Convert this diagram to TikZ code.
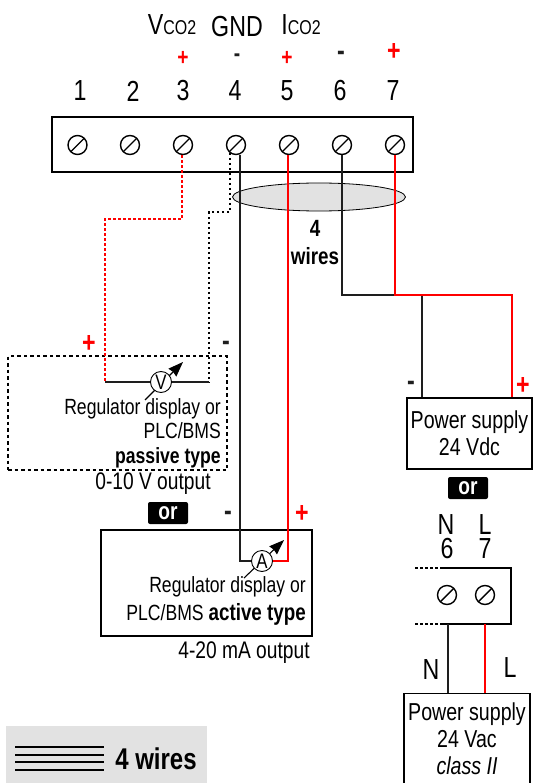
\documentclass[tikz,border=0pt]{standalone}
\usepackage{fontspec}
\setmainfont{Liberation Sans}[FakeStretch=0.8]
\usetikzlibrary{arrows.meta, positioning, shapes.geometric}
\definecolor{wireblack}{RGB}{30,30,30}
\definecolor{cablegray}{RGB}{226,226,226}
\tikzset{
  screw/.style={shape=circle,draw=black,line width=1.4pt,minimum size=19pt,inner sep=0pt,
    path picture={\draw[line width=1.4pt] (path picture bounding box.south west) -- (path picture bounding box.north east);}},
  meter/.style={shape=circle,draw=black,fill=white,line width=0.9pt,minimum size=21pt,inner sep=0pt,font=\fontsize{21}{22}\selectfont},
  needle/.style={line width=1.1pt,-{Stealth[length=15pt,width=11pt,inset=1pt]}},
  blackwire/.style={draw=wireblack,line width=1.6pt},
  redwire/.style={draw=red,line width=1.2pt},
  blackdots/.style={draw=black,line width=1.4pt,dash pattern=on 2.6pt off 2.4pt},
  reddots/.style={draw=red,line width=1.2pt,dash pattern=on 2.6pt off 2.4pt},
  unitbox/.style={shape=rectangle,draw=black,line width=1.3pt,inner sep=0pt},
  big/.style={font=\fontsize{29}{30}\selectfont,inner sep=0pt},
  mid/.style={font=\fontsize{24.5}{27}\selectfont,inner sep=0pt,align=center},
  small/.style={font=\fontsize{22}{24.5}\selectfont,inner sep=0pt},
  outputtxt/.style={font=\fontsize{24}{26}\selectfont,inner sep=0pt},
  boldtxt/.style={font=\fontsize{23.5}{28}\selectfont\bfseries,inner sep=0pt},
  sign/.style={font=\fontsize{29}{30}\selectfont\bfseries,inner sep=0pt},
  signsmall/.style={font=\fontsize{24}{26}\selectfont\bfseries,inner sep=0pt},
  orbox/.style={shape=rectangle,rounded corners=2pt,fill=black,text=white,minimum width=40pt,minimum height=22pt,inner sep=0pt,font=\fontsize{24}{26}\selectfont\bfseries},
}
\begin{document}
\begin{tikzpicture}[x=1pt,y=-1pt]
  \useasboundingbox (0,0) rectangle (533,783);
  \clip (0,0) rectangle (533,783);

  % main terminal block
  \node[unitbox,minimum width=361pt,minimum height=55pt] (block) at (232.5,144.5) {};
  \foreach \n/\x in {1/80,2/133,3/183,4/235,5/287,6/340,7/393}
    \node[big] (num\n) at (\x,91) {\n};
  \foreach \n/\x in {1/77.5,2/130,3/183,4/236,5/289,6/342,7/395}
    \node[screw] (s\n) at (\x,145) {};

  \node[big] (vco) at (172,25) {V\fontsize{20}{22}\selectfont CO2};
  \node[big] (gnd) at (237,27) {GND};
  \node[big] (ico) at (301,25) {I\fontsize{20}{22}\selectfont CO2};
  \node[signsmall,text=red] (p3) at (183,58) {+};
  \node[signsmall,text=wireblack] (m4) at (237,58) {-};
  \node[signsmall,text=red] (p5) at (287,58) {+};
  \node[sign,text=wireblack] (m6) at (341,56) {-};
  \node[sign,text=red] (p7) at (394,52) {+};

  % cable
  \node[shape=ellipse,draw=black,fill=cablegray,line width=0.8pt,minimum width=173pt,minimum height=28pt,inner sep=0pt] (cable) at (319,197) {};
  \node[boldtxt] (four) at (315,228) {4};
  \node[boldtxt] (wires) at (315,256) {wires};

  % passive unit
  \node[shape=rectangle,draw=black,line width=1.1pt,dash pattern=on 3.5pt off 3pt,minimum width=219pt,minimum height=114pt,inner sep=0pt] (passive) at (117.5,413) {};
  \coordinate (vfrom) at (145,400);
  \coordinate (vto) at (183,362);
  \draw[needle] (vfrom) -- (vto);
  \node[meter] (mv) at (161,382) {V};
  \coordinate (r1) at (182,219);
  \coordinate (r2) at (105,219);
  \coordinate (r3) at (105,382);
  \coordinate (b1) at (230,212);
  \coordinate (b2) at (209,212);
  \coordinate (b3) at (209,382);
  \draw[reddots] (r1 |- s3.south) -- (r1) -- (r2) -- (r3);
  \draw[blackdots] (b1 |- s4.-130) -- (b1) -- (b2) -- (b3);
  \draw[blackwire] (r3) -- (mv) -- (b3);
  \node[sign,text=red] (pv) at (89,344) {+};
  \node[sign,text=wireblack] (nv) at (226,346) {-};
  \node[small,anchor=east,align=right] (passivetxt) at (221,433) {Regulator display or\\PLC/BMS\\\textbf{passive type}};
  \node[outputtxt] (voutput) at (153,484) {0-10 V output};
  \node[orbox] (or1) at (168,513) {or};

  % active unit
  \node[unitbox,minimum width=211pt,minimum height=106pt] (active) at (206.5,583) {};
  \coordinate (afrom) at (244,578);
  \coordinate (ato) at (284,540);
  \draw[needle] (afrom) -- (ato);
  \node[meter] (ma) at (262,561) {A};
  \coordinate (a1) at (240,561);
  \coordinate (a2) at (288,561);
  \draw[blackwire] (a1 |- s4.-70) -- (a1) -- (ma);
  \draw[redwire] (ma) -- (a2) -- (a2 |- s5.south);
  \node[sign,text=wireblack] (na) at (228,516) {-};
  \node[sign,text=red] (pa) at (302,514) {+};
  \node[small,anchor=east,align=right] (activetxt) at (306,601) {Regulator display or\\[3pt]PLC/BMS {\fontsize{23.5}{24.5}\selectfont\textbf{active type}}};
  \node[outputtxt] (aoutput) at (244,653) {4-20 mA output};

  % 24 Vdc supply
  \node[unitbox,mid,minimum width=125pt,minimum height=71pt] (psdc) at (469.5,433.5) {Power supply\\24 Vdc};
  \coordinate (j6) at (342,295);
  \coordinate (j6b) at (422,295);
  \coordinate (j7) at (395,295);
  \coordinate (j7b) at (512,295);
  \draw[blackwire] (j6 |- s6.south) -- (j6) -- (j6b) -- (j6b |- psdc.north);
  \draw[redwire] (j7 |- s7.south) -- (j7) -- (j7b) -- (j7b |- psdc.north);
  \node[sign,text=wireblack] (nd) at (411,386) {-};
  \node[sign,text=red] (pd) at (523,386) {+};
  \node[orbox] (or2) at (468,488) {or};

  % 24 Vac terminal
  \node[big] (tn) at (446,525) {N};
  \node[big] (tl) at (485,525) {L};
  \node[big] (t6) at (447,549) {6};
  \node[big] (t7) at (485,549) {7};
  \node[screw] (sn) at (447,595) {};
  \node[screw] (sl) at (485,595) {};
  \coordinate (ttop) at (443,568);
  \coordinate (tbot) at (443,624);
  \coordinate (ttopr) at (511,568);
  \coordinate (tbotr) at (511,624);
  \coordinate (tdotop) at (415,568);
  \coordinate (tdobot) at (415,624);
  \draw[draw=black,line width=1.3pt] (ttop) -- (ttopr) -- (tbotr) -- (tbot);
  \draw[blackdots] (tdotop) -- (ttop);
  \draw[blackdots] (tdobot) -- (tbot);

  % 24 Vac supply
  \node[unitbox,mid,minimum width=126pt,minimum height=100pt,anchor=north,text depth=0pt] (psac) at (467,693) {};
  \node[mid] (psactxt) at (467,739) {Power supply\\24 Vac\\\textit{class II}};
  \coordinate (acn) at (448,624);
  \coordinate (acl) at (485,624);
  \draw[blackwire] (acn) -- (acn |- psac.north);
  \draw[redwire] (acl) -- (acl |- psac.north);
  \node[big] (ln) at (431,670) {N};
  \node[big] (ll) at (510,668) {L};

  % legend
  \node[shape=rectangle,fill=cablegray,minimum width=201pt,minimum height=60pt,inner sep=0pt,anchor=north west] (legend) at (6,726) {};
  \foreach \y in {747,755,762,770}
    \draw[draw=black,line width=1.4pt] (15,\y) -- (104,\y);
  \node[font=\fontsize{30}{32}\selectfont\bfseries,inner sep=0pt] (legendtxt) at (156,759) {4 wires};
\end{tikzpicture}
\end{document}
